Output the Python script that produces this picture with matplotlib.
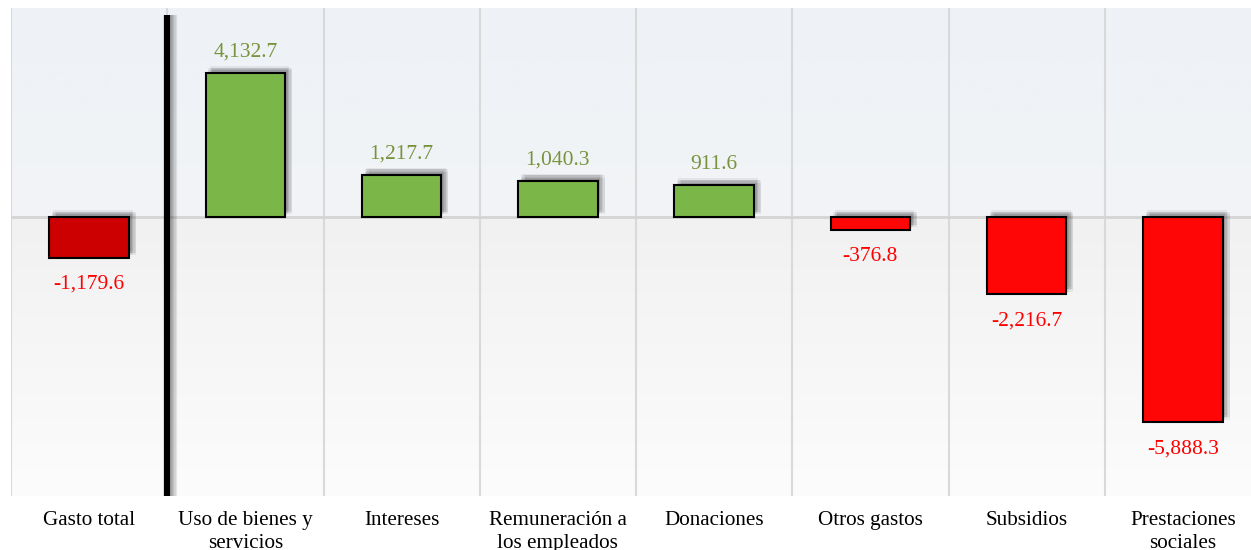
import numpy as np
import matplotlib.pyplot as plt
import matplotlib.colors as mcolors
import matplotlib.patheffects as pe

plt.rcParams['font.family'] = ['Liberation Serif', 'DejaVu Serif']

categorias = ['Gasto total', 'Uso de bienes y\nservicios', 'Intereses',
              'Remuneración a\nlos empleados', 'Donaciones', 'Otros gastos',
              'Subsidios', 'Prestaciones\nsociales']
valores = [-1179.6, 4132.7, 1217.7, 1040.3, 911.6, -376.8, -2216.7, -5888.3]
etiquetas = ['-1,179.6', '4,132.7', '1,217.7', '1,040.3', '911.6', '-376.8',
             '-2,216.7', '-5,888.3']
colores = ['#cc0000', '#7ab648', '#7ab648', '#7ab648', '#7ab648', '#ff0606',
           '#ff0606', '#ff0606']

W, H = 1251, 550
fig = plt.figure(figsize=(W / 100, H / 100), dpi=100)
# axes extends a bit past the right edge, like the original
ax = fig.add_axes([11 / W, 1 - 496 / H, 1250 / W, 488 / H])
ax.set_xlim(-0.5, 7.5)
ax.set_ylim(-8000, 6000)

# background gradient
top = np.array(mcolors.to_rgb('#eef2f6'))
top2 = np.array(mcolors.to_rgb('#f2f4f6'))
mid = np.array(mcolors.to_rgb('#f1f1f1'))
bot = np.array(mcolors.to_rgb('#fcfcfc'))
n = 200
frac0 = 6000 / 14000
grad = []
for i in range(n):
    t = i / (n - 1)
    if t < frac0:
        c = top + (top2 - top) * (t / frac0)
    else:
        c = mid + (bot - mid) * ((t - frac0) / (1 - frac0))
    grad.append(c)
grad = np.array(grad)[:, None, :]
ax.imshow(grad, extent=[-0.5, 7.5, -8000, 6000], aspect='auto', zorder=0)

for s in ax.spines.values():
    s.set_visible(False)
ax.set_xticks([])
ax.set_yticks([])

# grid lines at category boundaries
for b in np.arange(-0.5, 8, 1):
    ax.axvline(b, color='#d9d9d9', lw=1.5, zorder=1)
ax.axhline(0, color='#d4d4d4', lw=2, zorder=1)

# thick separator after Gasto total, with a soft shadow
sombra_linea = [pe.SimpleLineShadow(offset=(d, 0), shadow_color='black', alpha=0.08)
                for d in (1, 2, 3, 4, 5)] + [pe.Normal()]
ax.plot([0.5, 0.5], [-8000, 5800], color='black', lw=4.5, solid_capstyle='butt',
        zorder=3, path_effects=sombra_linea)

ancho = 0.51
x = np.arange(len(valores))
sombra = [pe.SimplePatchShadow(offset=(dx, dy), shadow_rgbFace='black', alpha=0.06)
          for dx, dy in [(1, 1), (2, 2), (3, 3), (4, 4), (5, 4), (3, 5), (5, 2), (2, 4)]]
barras = ax.bar(x, valores, width=ancho, color=colores, edgecolor='black',
                linewidth=1.5, zorder=4)
for r in barras:
    r.set_path_effects(sombra + [pe.Normal()])

for xi, v, lab in zip(x, valores, etiquetas):
    if v > 0:
        ax.annotate(lab, (xi, v), xytext=(0, 8), textcoords='offset points',
                    ha='center', va='bottom', color='#77933c', fontsize=15.5)
    else:
        ax.annotate(lab, (xi, v), xytext=(0, -12), textcoords='offset points',
                    ha='center', va='top', color='#ff0000', fontsize=15.5)

for xi, c in zip(x, categorias):
    ax.text(xi, -0.03, c, transform=ax.get_xaxis_transform(), ha='center', va='top',
            fontsize=15.2, linespacing=1.3)

fig.savefig('out.png', dpi=100)
